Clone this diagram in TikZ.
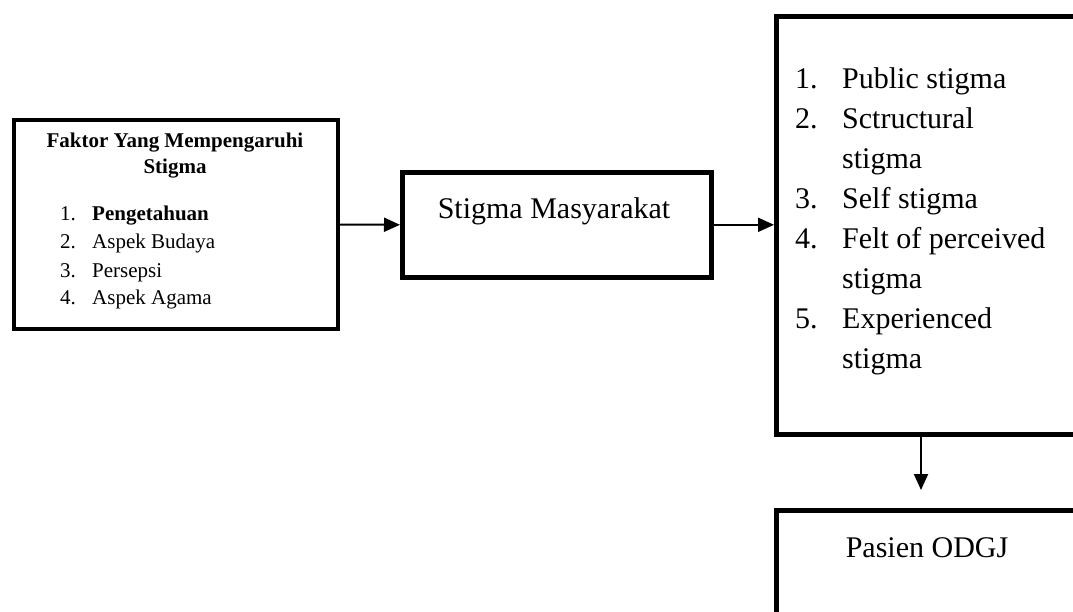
\documentclass[tikz,border=0pt]{standalone}
\usepackage{fontspec}
\setmainfont{Liberation Serif}
\usetikzlibrary{arrows.meta,calc}

\begin{document}
\begin{tikzpicture}[x=1pt, y=-1pt, >={Triangle[length=16pt,width=14pt]},
  box/.style={draw, inner sep=0pt, anchor=north west, line width=4.6pt},
  item/.style={anchor=base west, inner sep=0pt},
  small/.style={font=\fontsize{21}{25}\selectfont},
  big/.style={font=\fontsize{30}{36}\selectfont}]
  \useasboundingbox (0,0) rectangle (1073,611);
  \clip (0,0) rectangle (1073,611);
  % boxes
  \node[box, line width=4pt, minimum width=324pt, minimum height=209pt] (faktor) at (12,118) {};
  \node[box, minimum width=309pt, minimum height=105pt] (stigma) at (400,170) {};
  \node[box, minimum width=420pt, minimum height=418pt] (jenis) at (774,14) {};
  \node[box, minimum width=420pt, minimum height=200pt] (pasien) at (774,508) {};
  % connectors
  \draw[line width=2pt, ->] (faktor.east) -- (stigma.west);
  \draw[line width=2pt, ->] (stigma.east) -- (stigma.east -| jenis.west);
  \coordinate (drop) at ($(jenis.south west)+(147,0)$);
  \draw[line width=2pt, ->, shorten >=18pt] (drop) -- (drop |- pasien.north);
  % left box text
  \node[small, font=\fontsize{21}{25}\selectfont\bfseries, anchor=base, inner sep=0pt] (judulA) at (175,147) {Faktor Yang Mempengaruhi};
  \node[small, font=\fontsize{21}{25}\selectfont\bfseries, anchor=base, inner sep=0pt] (judulB) at (175,173) {Stigma};
  \node[small, item] (noA) at (60,220) {1.};
  \node[small, item, font=\fontsize{21}{25}\selectfont\bfseries] (faktorA) at (92,220) {Pengetahuan};
  \node[small, item] (noB) at (60,248) {2.};
  \node[small, item] (faktorB) at (92,248) {Aspek Budaya};
  \node[small, item] (noC) at (60,277) {3.};
  \node[small, item] (faktorC) at (92,277) {Persepsi};
  \node[small, item] (noD) at (60,304) {4.};
  \node[small, item] (faktorD) at (92,304) {Aspek Agama};
  % middle box text
  \node[big, anchor=base, inner sep=0pt] (stigmaT) at (554,218) {Stigma Masyarakat};
  % right box text
  \node[big, item] (jnoA) at (795,88) {1.};
  \node[big, item] (jenisA) at (842,88) {Public stigma};
  \node[big, item] (jnoB) at (795,128) {2.};
  \node[big, item] (jenisB) at (842,128) {Sctructural};
  \node[big, item] (jenisBb) at (842,168) {stigma};
  \node[big, item] (jnoC) at (795,208) {3.};
  \node[big, item] (jenisC) at (842,208) {Self stigma};
  \node[big, item] (jnoD) at (795,248) {4.};
  \node[big, item] (jenisD) at (842,248) {Felt of perceived};
  \node[big, item] (jenisDb) at (842,288) {stigma};
  \node[big, item] (jnoE) at (795,328) {5.};
  \node[big, item] (jenisE) at (842,328) {Experienced};
  \node[big, item] (jenisEb) at (842,368) {stigma};
  % bottom box text
  \node[big, anchor=base, inner sep=0pt] (pasienT) at (927,557) {Pasien ODGJ};
\end{tikzpicture}
\end{document}
